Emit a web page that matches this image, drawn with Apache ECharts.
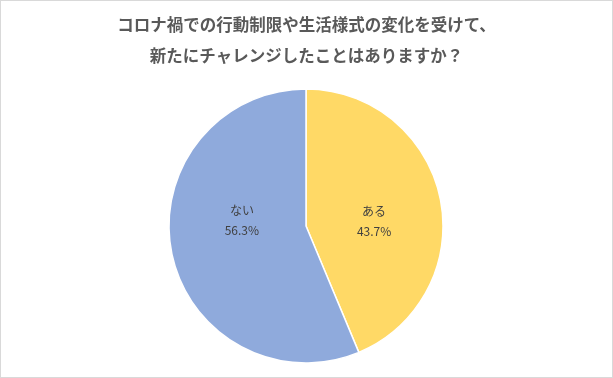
<!DOCTYPE html>
<html>
<head>
<meta charset="utf-8">
<script src="https://cdn.jsdelivr.net/npm/echarts@6/dist/echarts.min.js"></script>
<style>
  html, body { margin: 0; padding: 0; background: #fff; }
  #chart { width: 611px; height: 376px; border: 1px solid #d9d9d9; }
</style>
</head>
<body>
<div id="chart"></div>
<script>
// 回答の区分と割合（%）
const categories = ['ある', 'ない']
const shares = [43.7, 56.3]
const colors = ['#FFD966', '#8FAADC']
const titleLines = [
  'コロナ禍での行動制限や生活様式の変化を受けて、',
  '新たにチャレンジしたことはありますか？'
]
// ラベル位置の微調整（Excel風）
const labelOffsets = [[-2, 9], [6, -20]]

const myChart = echarts.init(document.getElementById('chart'), null, { renderer: 'canvas' })

const option = {
  animation: false,
  title: {
    text: titleLines.join('\n'),
    left: 'center',
    top: 3,
    textStyle: {
      fontFamily: 'Noto Sans CJK JP',
      fontSize: 16.5,
      fontWeight: 'bold',
      color: '#595959',
      lineHeight: 31
    }
  },
  series: [
    {
      type: 'pie',
      center: [305, 225],
      radius: [0, 137],
      startAngle: 90,
      clockwise: true,
      data: categories.map((name, i) => ({
        name: name,
        value: shares[i],
        itemStyle: { color: colors[i] },
        label: { offset: labelOffsets[i] }
      })),
      itemStyle: { borderColor: '#fff', borderWidth: 1.5 },
      label: {
        show: true,
        position: 'inside',
        formatter: p => p.name + '\n' + p.value.toFixed(1) + '%',
        fontFamily: 'Noto Sans CJK JP',
        fontSize: 12,
        lineHeight: 20,
        color: '#404040'
      },
      labelLine: { show: false },
      emphasis: { disabled: true }
    }
  ]
}

myChart.setOption(option)
</script>
</body>
</html>
